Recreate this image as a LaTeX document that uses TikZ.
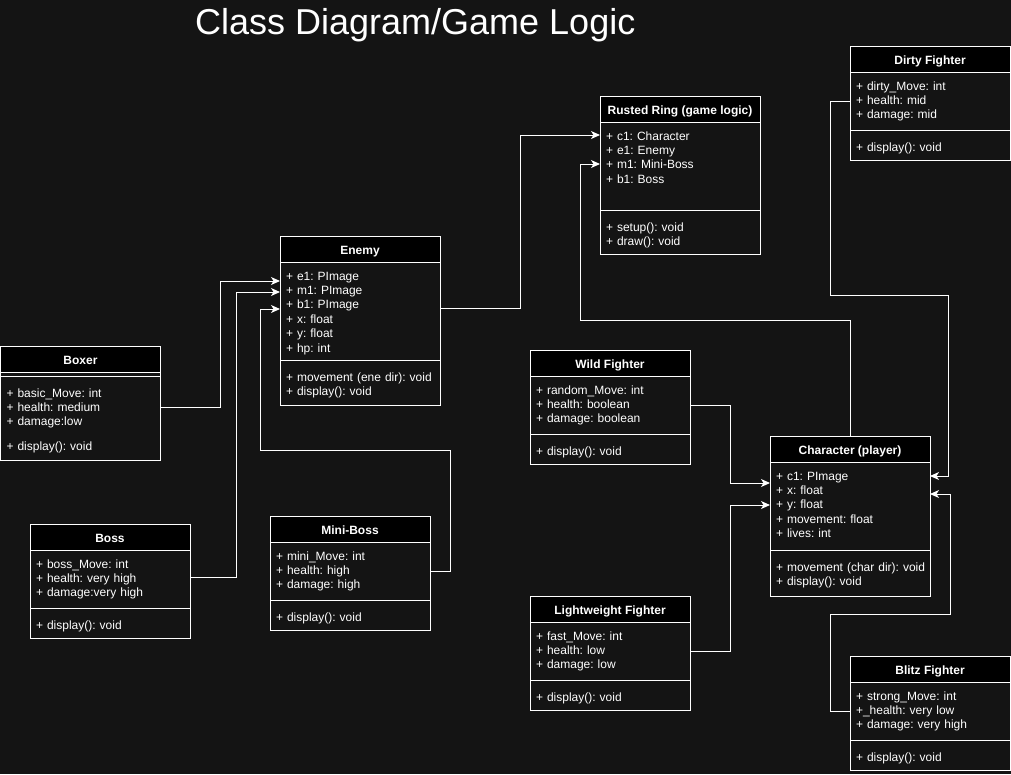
\documentclass[tikz,border=0pt]{standalone}
\usepackage{fontspec}
\setmainfont{Liberation Sans}
\usetikzlibrary{arrows.meta}
\definecolor{canvas}{HTML}{141414}

\tikzset{
  classhead/.style={draw=white, line width=1pt, fill=black, text=white, anchor=north west,
    minimum width=160pt, minimum height=26pt, inner sep=0pt, outer sep=0pt,
    text height=11pt, text depth=0pt, font=\bfseries\fontsize{12}{14.4}\selectfont},
  attrs/.style={draw=white, line width=1pt, fill=canvas, text=white, anchor=north west,
    inner xsep=6pt, inner ysep=0pt, outer sep=0pt, text width=148pt, align=left,
    text height=18pt, text depth=#1pt, font=\fontsize{12}{14.4}\selectfont\frenchspacing},
  meths/.style={attrs=#1, text height=21pt},
  link/.style={draw=white, line width=1pt, -{Stealth[length=9pt,width=8pt,inset=2.5pt]}},
}

\begin{document}
\begin{tikzpicture}[x=1pt, y=-1pt]

%canvas
\fill[canvas] (0,0) rectangle (1011,774);
\useasboundingbox (0,0) rectangle (1011,774);

\node[anchor=base west, inner sep=0pt, text=white, font=\fontsize{36}{43}\selectfont] (title) at (195,34) {Class Diagram/Game Logic};

%classes
\node[classhead] (ring) at (600,96) {Rusted Ring (game logic)};
\node[attrs=70] (ring-a) at (ring.south west) {+ c1: Character\\+ e1: Enemy\\+ m1: Mini-Boss\\+ b1: Boss};
\node[meths=23] (ring-m) at (ring-a.south west) {+ setup(): void\\+ draw(): void};

\node[classhead] (dirty) at (850,46) {Dirty Fighter};
\node[attrs=40] (dirty-a) at (dirty.south west) {+ dirty\_Move: int\\+ health: mid\\+ damage: mid};
\node[meths=9] (dirty-m) at (dirty-a.south west) {+ display(): void};

\node[classhead] (enemy) at (280,236) {Enemy};
\node[attrs=80] (enemy-a) at (enemy.south west) {+ e1: PImage\\+ m1: PImage\\+ b1: PImage\\+ x: float\\+ y: float\\+ hp: int};
\node[meths=24] (enemy-m) at (enemy-a.south west) {\mbox{+ movement (ene dir): void}\\+ display(): void};

\node[classhead] (boxer) at (0.5,346) {Boxer};
\node[classhead, fill=canvas, minimum height=4pt, text height=0pt] (boxer-s) at (boxer.south west) {};
\node[meths=63] (boxer-b) at (boxer-s.south west) {+ basic\_Move: int\\+ health: medium\\+ damage:low\\[10pt]+ display(): void};

\node[classhead] (boss) at (30,524) {Boss};
\node[attrs=40] (boss-a) at (boss.south west) {+ boss\_Move: int\\+ health: very high\\+ damage:very high};
\node[meths=9] (boss-m) at (boss-a.south west) {+ display(): void};

\node[classhead] (mini) at (270,516) {Mini-Boss};
\node[attrs=40] (mini-a) at (mini.south west) {+ mini\_Move: int\\+ health: high\\+ damage: high};
\node[meths=9] (mini-m) at (mini-a.south west) {+ display(): void};

\node[classhead] (wild) at (530,350) {Wild Fighter};
\node[attrs=40] (wild-a) at (wild.south west) {+ random\_Move: int\\+ health: boolean\\+ damage: boolean};
\node[meths=9] (wild-m) at (wild-a.south west) {+ display(): void};

\node[classhead] (char) at (770,436) {Character (player)};
\node[attrs=70] (char-a) at (char.south west) {+ c1: PImage\\+ x: float\\+ y: float\\+ movement: float\\+ lives: int};
\node[meths=25] (char-m) at (char-a.south west) {\mbox{+ movement (char dir): void}\\+ display(): void};

\node[classhead] (light) at (530,596) {Lightweight Fighter};
\node[attrs=40] (light-a) at (light.south west) {+ fast\_Move: int\\+ health: low\\+ damage: low};
\node[meths=9] (light-m) at (light-a.south west) {+ display(): void};

\node[classhead] (blitz) at (850,656) {Blitz Fighter};
\node[attrs=40] (blitz-a) at (blitz.south west) {+ strong\_Move: int\\+\_health: very low\\+ damage: very high};
\node[meths=9] (blitz-m) at (blitz-a.south west) {+ display(): void};

%links
\draw[link] ([yshift=3pt]enemy-a.east) -- ++(80,0) |- ([yshift=-13pt]ring-a.north west);
\draw[link] (char.north) -- ++(0,-116) -| ([xshift=-20pt,yshift=-42pt]ring-a.north west) -- ([yshift=-42pt]ring-a.north west);
\draw[link] (dirty-a.west) -- ++(-20,0) -- ++(0,194) -| ([xshift=18pt,yshift=30pt]char-a.east) -- ([yshift=30pt]char-a.east);
\draw[link] (blitz-a.west) -- ++(-20,0) -- ++(0,-97) -| ([xshift=20pt,yshift=12pt]char-a.east) -- ([yshift=12pt]char-a.east);
\draw[link] (wild-a.east) -- ++(40,0) |- ([yshift=23pt]char-a.west);
\draw[link] (light-a.east) -- ++(40,0) |- ([yshift=1pt]char-a.west);
\draw[link] ([yshift=11pt]boxer-b.east) -- ++(60,0) |- ([yshift=-19pt]enemy-a.north west);
\draw[link] ([yshift=2pt]boss-a.east) -- ++(46,0) |- ([yshift=-30pt]enemy-a.north west);
\draw[link] (mini-a.east) -- ++(20,0) -- ++(0,-121) -| ([xshift=-20pt,yshift=-47pt]enemy-a.north west) -- ([yshift=-47pt]enemy-a.north west);
\end{tikzpicture}
\end{document}
